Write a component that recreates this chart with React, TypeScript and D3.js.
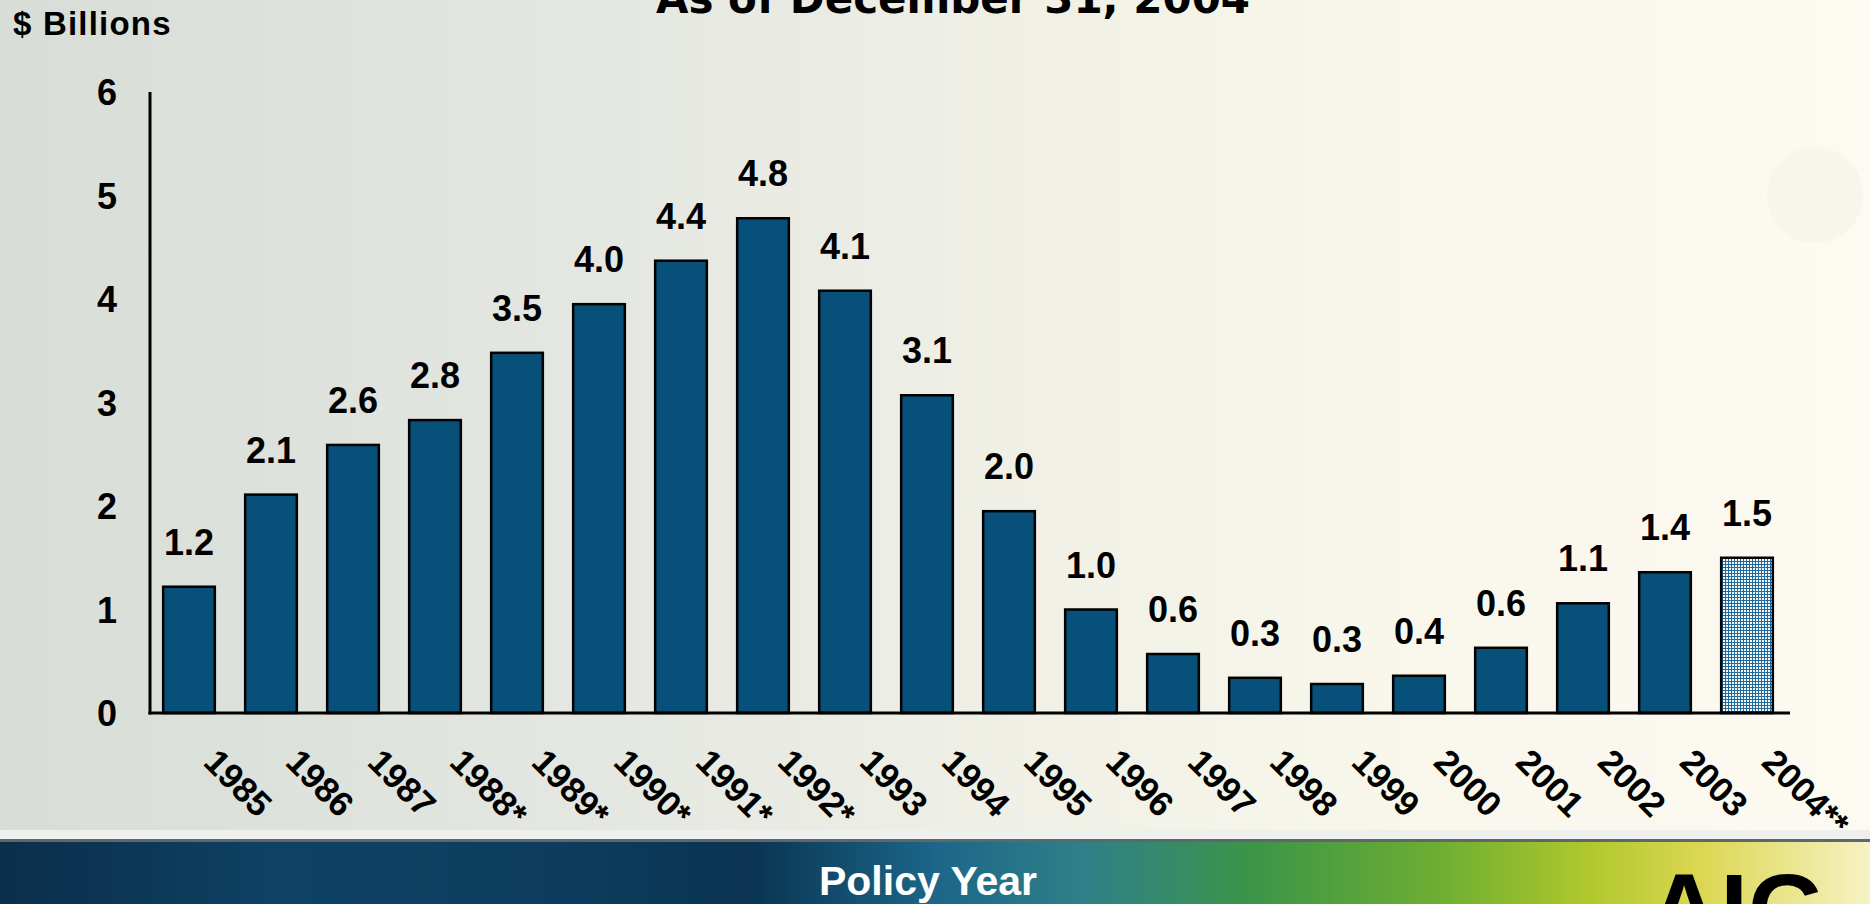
import React from "react";
import * as d3 from "d3";

const years = ["1985","1986","1987","1988*","1989*","1990*","1991*","1992*","1993","1994","1995","1996","1997","1998","1999","2000","2001","2002","2003","2004**"];
const barValues = [1.22,2.11,2.59,2.83,3.48,3.95,4.37,4.78,4.08,3.07,1.95,1.0,0.57,0.34,0.28,0.36,0.63,1.06,1.36,1.5];
const valueLabels = ["1.2","2.1","2.6","2.8","3.5","4.0","4.4","4.8","4.1","3.1","2.0","1.0","0.6","0.3","0.3","0.4","0.6","1.1","1.4","1.5"];
const yTicks = [0,1,2,3,4,5,6];

const W = 1870, H = 904;
const FONT = "'Liberation Sans', Arial, Helvetica, sans-serif";

export default function App() {
  const x = d3.scaleBand<string>().domain(years).range([148, 1788]).paddingInner(0.37).paddingOuter(0.185);
  const y = d3.scaleLinear().domain([0, 6]).range([713, 92]);
  const bw = x.bandwidth();
  const last = years[years.length - 1];

  return (
    <svg width={W} height={H} style={{ position: "absolute", left: 0, top: 0, display: "block" }}>
      <defs>
        <linearGradient id="bg" x1="0" y1="0" x2="1" y2="0">
          <stop offset="0" stopColor="#d8ddd8" />
          <stop offset="0.3" stopColor="#e3e6e1" />
          <stop offset="0.55" stopColor="#f0f0e6" />
          <stop offset="0.75" stopColor="#f9f7ec" />
          <stop offset="1" stopColor="#fcfaf1" />
        </linearGradient>
        <linearGradient id="band" x1="0" y1="0" x2="1" y2="0">
          <stop offset="0" stopColor="#0b2e4a" />
          <stop offset="0.15" stopColor="#0e4265" />
          <stop offset="0.3" stopColor="#0c3d5e" />
          <stop offset="0.4" stopColor="#0a3452" />
          <stop offset="0.5" stopColor="#1c6689" />
          <stop offset="0.58" stopColor="#2f8088" />
          <stop offset="0.67" stopColor="#3c9548" />
          <stop offset="0.77" stopColor="#6eae32" />
          <stop offset="0.85" stopColor="#b0c82c" />
          <stop offset="0.91" stopColor="#dcd752" />
          <stop offset="1" stopColor="#f6f2c4" />
        </linearGradient>
        <pattern id="grid" width="3" height="3" patternUnits="userSpaceOnUse">
          <rect width="3" height="3" fill="#1f6a9a" />
          <rect x="1" y="1" width="2" height="2" fill="#f4f8fb" />
        </pattern>
      </defs>

      <rect x={0} y={0} width={W} height={H} fill="url(#bg)" />
      <circle cx={1815} cy={195} r={48} fill="#f4f2e6" opacity={0.45} />

      {/* bottom band */}
      <rect x={0} y={830} width={W} height={10} fill="#eef0ee" />
      <rect x={0} y={839} width={W} height={3} fill="#5f666c" />
      <rect x={0} y={842} width={W} height={H - 842} fill="url(#band)" />
      <text x={928} y={895} textAnchor="middle" fill="#ffffff" fontFamily={FONT} fontWeight="bold" fontSize={41}>Policy Year</text>
      <text x={1648} y={944} fill="#000000" fontFamily={FONT} fontWeight="bold" fontSize={100}>AIG</text>

      {/* title and axis title */}
      <text x={953} y={13} textAnchor="middle" fill="#000" fontFamily="'DejaVu Sans', Verdana, sans-serif" fontWeight="bold" fontSize={42}>As of December 31, 2004</text>
      <text x={13} y={35} fill="#000" fontFamily={FONT} fontWeight="bold" fontSize={33} letterSpacing={1.2}>$ Billions</text>

      {/* bars */}
      {years.map((yr, i) => (
        <rect key={yr} x={x(yr)!} y={y(barValues[i])} width={bw} height={y(0) - y(barValues[i])}
          fill={yr === last ? "url(#grid)" : "#07507a"} stroke="#000" strokeWidth={2.5} />
      ))}

      {/* value labels */}
      {years.map((yr, i) => (
        <text key={"v" + yr} x={x(yr)! + bw / 2} y={y(barValues[i]) - 32} textAnchor="middle"
          fontFamily={FONT} fontWeight="bold" fontSize={36} fill="#000">{valueLabels[i]}</text>
      ))}

      {/* axes */}
      <line x1={150} y1={y(6)} x2={150} y2={y(0) + 1.5} stroke="#000" strokeWidth={3} />
      <line x1={148.5} y1={y(0)} x2={1790} y2={y(0)} stroke="#000" strokeWidth={3} />

      {yTicks.map(t => (
        <text key={"t" + t} x={117} y={y(t) + 13} textAnchor="end" fontFamily={FONT} fontWeight="bold" fontSize={36} fill="#000">{t}</text>
      ))}

      {years.map(yr => (
        <text key={"x" + yr} transform={`translate(${x(yr)! + bw / 2 + 13},764) rotate(45)`}
          fontFamily={FONT} fontWeight="bold" fontSize={35} fill="#000">{yr}</text>
      ))}
    </svg>
  );
}
